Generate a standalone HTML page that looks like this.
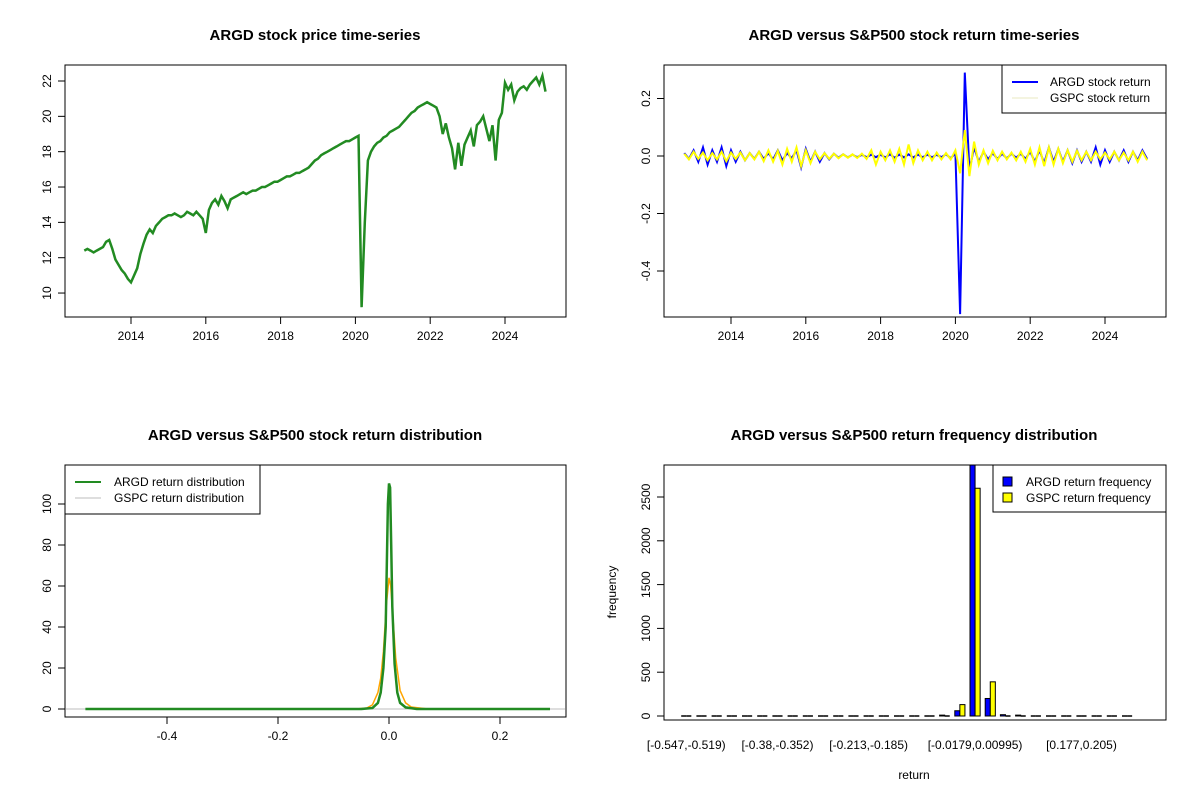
<!DOCTYPE html>
<html><head><meta charset="utf-8"><style>
html,body{margin:0;padding:0;background:#fff}
svg{display:block;font-family:"Liberation Sans",Arial,sans-serif}
</style></head><body>
<svg id="c" width="1200" height="800" xmlns="http://www.w3.org/2000/svg"></svg>
<script>
// ---- data ----
const priceStart = 2012.75;
const priceValues = [12.4,12.5,12.4,12.3,12.4,12.5,12.6,12.9,13.0,12.5,11.9,11.6,11.3,11.1,10.8,10.6,
11.0,11.4,12.2,12.8,13.3,13.6,13.4,13.8,14.0,14.2,14.3,14.4,14.4,14.5,14.4,14.3,14.4,14.6,14.5,14.4,14.6,14.4,14.2,13.4,
14.7,15.1,15.3,15.0,15.5,15.2,14.8,15.3,15.4,15.5,15.6,15.7,15.6,15.7,15.8,15.8,15.9,16.0,16.0,16.1,16.2,16.3,16.3,16.4,
16.5,16.6,16.6,16.7,16.8,16.8,16.9,17.0,17.1,17.3,17.5,17.6,17.8,17.9,18.0,18.1,18.2,18.3,18.4,18.5,18.6,18.6,18.7,18.8,
18.9,9.2,14.0,17.5,18.0,18.3,18.5,18.6,18.8,18.9,19.1,19.2,
19.3,19.4,19.6,19.8,20.0,20.2,20.3,20.5,20.6,20.7,20.8,20.7,
20.6,20.5,20.0,19.0,19.6,18.8,18.2,17.0,18.5,17.2,18.4,18.8,
19.2,18.3,19.5,19.7,20.0,19.3,18.6,19.5,17.5,19.8,20.2,21.9,
21.5,21.8,20.9,21.4,21.6,21.7,21.5,21.8,22.0,22.2,21.8,22.3,21.4];
const retStart = 2012.75;
const argdReturns = [0.01,-0.01,0.02,-0.02,0.03,-0.03,0.02,-0.02,0.03,-0.035,0.02,-0.02,0.015,-0.015,0.01,-0.01,0.015,-0.01,0.01,-0.012,0.02,-0.015,0.01,-0.008,0.02,-0.04,0.025,-0.02,0.015,-0.02,0.01,-0.012,0.008,-0.006,0.006,-0.005,0.005,-0.004,0.004,-0.004,0.005,-0.004,0.004,-0.005,0.006,-0.006,0.005,-0.005,0.006,-0.005,0.005,-0.004,0.005,-0.005,0.004,-0.004,0.006,-0.008,0.01,-0.55,0.29,-0.05,0.03,-0.02,0.015,-0.012,0.01,-0.01,0.008,-0.008,0.008,-0.006,0.008,-0.01,0.015,-0.02,0.02,-0.025,0.03,-0.02,0.025,-0.02,0.02,-0.025,0.02,-0.02,0.015,-0.02,0.03,-0.03,0.02,-0.02,0.015,-0.015,0.02,-0.02,0.015,-0.015,0.02,-0.01];
const gspcReturns = [0.008,-0.012,0.015,-0.01,0.012,-0.015,0.01,-0.012,0.015,-0.018,0.012,-0.01,0.012,-0.015,0.01,-0.012,0.015,-0.018,0.02,-0.02,0.018,-0.03,0.025,-0.02,0.03,-0.035,0.02,-0.025,0.015,-0.012,0.01,-0.01,0.008,-0.008,0.006,-0.006,0.006,-0.007,0.008,-0.01,0.02,-0.03,0.015,-0.015,0.02,-0.02,0.025,-0.03,0.04,-0.025,0.02,-0.015,0.015,-0.015,0.012,-0.012,0.01,-0.012,0.02,-0.06,0.09,-0.07,0.05,-0.03,0.02,-0.025,0.018,-0.015,0.015,-0.012,0.012,-0.015,0.015,-0.02,0.025,-0.03,0.03,-0.035,0.03,-0.03,0.025,-0.025,0.02,-0.02,0.018,-0.015,0.015,-0.015,0.015,-0.012,0.012,-0.012,0.015,-0.015,0.012,-0.015,0.015,-0.02,0.015,-0.015];
const densArgdX = [-0.547,-0.05,-0.03,-0.02,-0.015,-0.01,-0.006,-0.004,-0.002,0,0.002,0.004,0.006,0.01,0.015,0.02,0.03,0.05,0.29];
const densArgdY = [0,0,0.5,3,8,20,40,70,100,110,108,80,50,22,8,3,0.8,0,0];
const densGspcX = [-0.06,-0.04,-0.03,-0.02,-0.015,-0.01,-0.005,0,0.003,0.007,0.012,0.02,0.03,0.04,0.07];
const densGspcY = [0,0.5,2,8,15,28,50,64,60,45,25,9,3,1,0];
const binLabels = ["[-0.547,-0.519)","[-0.38,-0.352)","[-0.213,-0.185)","[-0.0179,0.00995)","[0.177,0.205)"];
const binLabelIdx = [0,6,12,19,26];
const argdFreq = [0,0,0,0,0,0,0,0,0,0,0,0,0,0,0,0,0,10,60,2950,200,15,10,0,0,0,0,0,0,0];
const gspcFreq = [0,0,0,0,0,0,0,0,0,0,0,0,0,0,0,0,0,2,130,2600,390,5,3,0,0,0,0,0,0,0];
const yearTicks = [2014,2016,2018,2020,2022,2024];
const priceTicks = [10,12,14,16,18,20,22];
const retTicks = [-0.4,-0.2,0.0,0.2];
const densTicksX = [-0.4,-0.2,0.0,0.2];
const densTicksY = [0,20,40,60,80,100];
const freqTicks = [0,500,1000,1500,2000,2500];

// ---- helpers ----
const svg = document.getElementById('c');
const NS = 'http://www.w3.org/2000/svg';
function mk(tag, attrs, parent){const e=document.createElementNS(NS,tag);for(const k in attrs)e.setAttribute(k,attrs[k]);(parent||svg).appendChild(e);return e;}
function txt(s,x,y,opt,parent){const e=mk('text',Object.assign({x:x,y:y,'font-size':12,'text-anchor':'middle',fill:'#000'},opt||{}),parent);e.textContent=s;return e;}
function box(x0,y0,x1,y1,parent){return mk('rect',{x:x0,y:y0,width:x1-x0,height:y1-y0,fill:'none',stroke:'#000','stroke-width':1},parent);}
function line(x1,y1,x2,y2,parent){return mk('line',{x1:x1,y1:y1,x2:x2,y2:y2,stroke:'#000','stroke-width':1},parent);}
function xTicks(vals,fx,yBase,parent,labels){vals.forEach((v,i)=>{line(fx(v),yBase,fx(v),yBase+7,parent);const t=txt(labels?labels[i]:String(v),fx(v),yBase+23,{},parent);});}
function yTicks(vals,fy,xBase,parent,fmt){vals.forEach(v=>{const y=fy(v);line(xBase-7,y,xBase,y,parent);const s=fmt?fmt(v):String(v);const t=txt(s,xBase-14,y,{transform:`rotate(-90 ${xBase-14} ${y})`},parent);});}
function poly(xs,ys,color,w,parent){const p=mk('polyline',{points:xs.map((x,i)=>x.toFixed(1)+','+ys[i].toFixed(1)).join(' '),fill:'none',stroke:color,'stroke-width':w,'stroke-linejoin':'miter'},parent);return p;}
function title(s,x,y,parent){const t=txt(s,x,y,{'font-size':15,'font-weight':'bold'},parent);return t;}

// ---- panel 1: price ----
const g1=mk('g',{});


const px=yr=>131+(yr-2014)*37.4, py=v=>81+(22-v)*17.67;
title('ARGD stock price time-series',315,40,g1);
const pl=poly(priceValues.map((v,i)=>px(priceStart+i/12)),priceValues.map(py),'#228B22',2.5,g1);


box(65,65,566,317,g1);
xTicks(yearTicks,px,317,g1);
yTicks(priceTicks,py,65,g1);

// ---- panel 2: returns ----
const g2=mk('g',{});


const rx=yr=>731+(yr-2014)*37.4, ry=v=>156-v*287.5;
title('ARGD versus S&P500 stock return time-series',914,40,g2);
const ra=poly(argdReturns.map((v,i)=>rx(retStart+i/8)),argdReturns.map(ry),'#0000ff',2,g2);


const rg=poly(gspcReturns.map((v,i)=>rx(retStart+i/8)),gspcReturns.map(ry),'#ffff00',2,g2);


box(664,65,1166,317,g2);
xTicks(yearTicks,rx,317,g2);
yTicks(retTicks,ry,664,g2,v=>v.toFixed(1));
const lg2=mk('g',{},g2);


mk('rect',{x:1002,y:65,width:164,height:48,fill:'#fff',stroke:'#000'},lg2);
mk('line',{x1:1012,y1:82,x2:1038,y2:82,stroke:'#0000ff','stroke-width':2},lg2);
mk('line',{x1:1012,y1:98,x2:1038,y2:98,stroke:'#e8e8c0','stroke-width':1},lg2);
txt('ARGD stock return',1050,86,{'text-anchor':'start'},lg2);
txt('GSPC stock return',1050,102,{'text-anchor':'start'},lg2);

// ---- panel 3: density ----
const g3=mk('g',{});


const dx=v=>389+v*555, dy=d=>709-d*2.05;
title('ARGD versus S&P500 stock return distribution',315,440,g3);
mk('line',{x1:66,y1:dy(0),x2:565,y2:dy(0),stroke:'#bebebe','stroke-width':1},g3);
const dg=poly(densGspcX.map(dx),densGspcY.map(dy),'#ffa500',1.5,g3);


const da=poly(densArgdX.map(dx),densArgdY.map(dy),'#228B22',2.5,g3);


box(65,465,566,717,g3);
xTicks(densTicksX,dx,717,g3,densTicksX.map(v=>v.toFixed(1)));
yTicks(densTicksY,dy,65,g3);
const lg3=mk('g',{},g3);


mk('rect',{x:65,y:465,width:195,height:49,fill:'#fff',stroke:'#000'},lg3);
mk('line',{x1:75,y1:482,x2:101,y2:482,stroke:'#228B22','stroke-width':2},lg3);
mk('line',{x1:75,y1:498,x2:101,y2:498,stroke:'#bebebe','stroke-width':1},lg3);
txt('ARGD return distribution',114,486,{'text-anchor':'start'},lg3);
txt('GSPC return distribution',114,502,{'text-anchor':'start'},lg3);

// ---- panel 4: histogram ----
const g4=mk('g',{});


const hy=c=>716-c*0.0876, bx=i=>681.2+i*15.2, bw=5.07;
title('ARGD versus S&P500 return frequency distribution',914,440,g4);
const clip=mk('clipPath',{id:'hc'},g4);
mk('rect',{x:664,y:465,width:502,height:255},clip);
const bars=mk('g',{'clip-path':'url(#hc)'},g4);
function bar(x,c,fill){
  const h=hy(0)-hy(c);
  if(h<0.5){return mk('line',{x1:x,y1:hy(0),x2:x+bw,y2:hy(0),stroke:'#000','stroke-width':1.5},bars);}
  return mk('rect',{x:x,y:hy(c),width:bw,height:h,fill:fill,stroke:'#000','stroke-width':1},bars);
}
argdFreq.forEach((c,i)=>{
  const r=bar(bx(i),c,'#0000ff');
  
  
});
gspcFreq.forEach((c,i)=>{
  const r=bar(bx(i)+bw,c,'#ffff00');
  
  
});
box(664,465,1166,720,g4);
binLabelIdx.forEach((b,k)=>{
  const t=txt(binLabels[k],bx(b)+bw,749,{},g4);
  
  
});
yTicks(freqTicks,hy,664,g4);
const xt=txt('return',914,779,{},g4);


const yt=txt('frequency',616,592,{transform:'rotate(-90 616 592)'},g4);


const lg4=mk('g',{},g4);


mk('rect',{x:993,y:465,width:173,height:47,fill:'#fff',stroke:'#000'},lg4);
mk('rect',{x:1003,y:477,width:9,height:9,fill:'#0000ff',stroke:'#000'},lg4);
mk('rect',{x:1003,y:493,width:9,height:9,fill:'#ffff00',stroke:'#000'},lg4);
txt('ARGD return frequency',1026,486,{'text-anchor':'start'},lg4);
txt('GSPC return frequency',1026,502,{'text-anchor':'start'},lg4);
</script>
</body></html>
